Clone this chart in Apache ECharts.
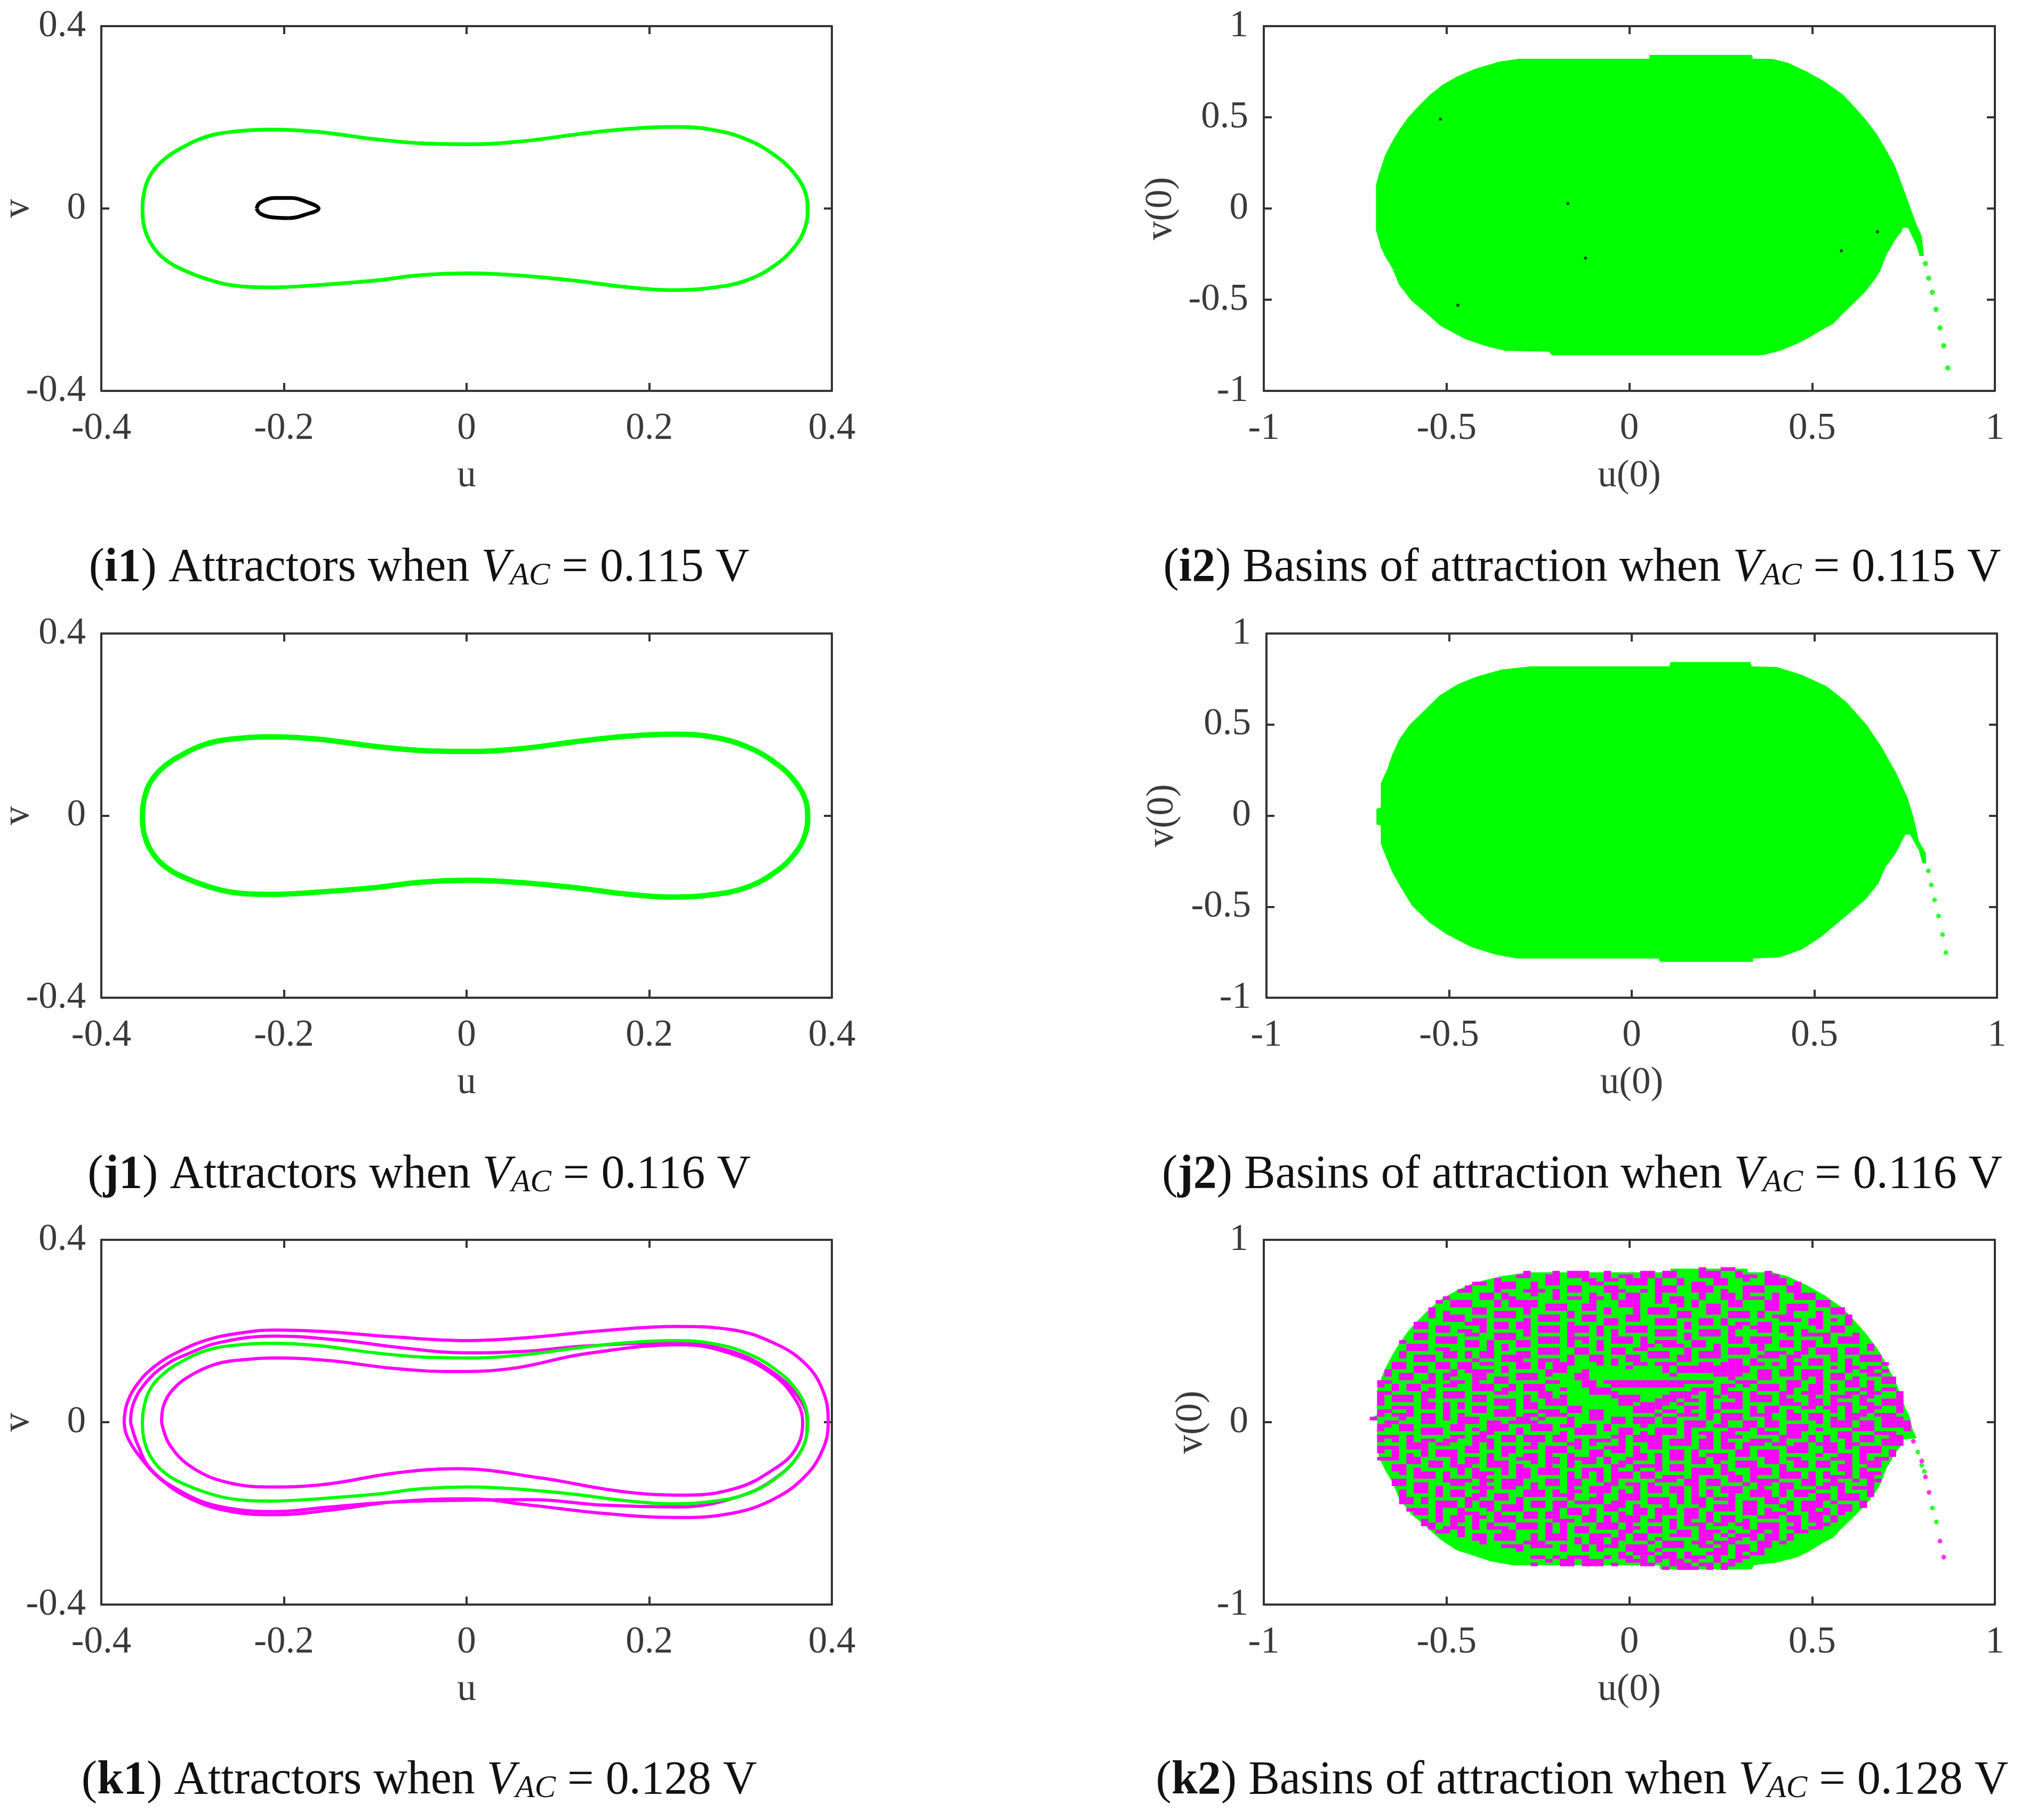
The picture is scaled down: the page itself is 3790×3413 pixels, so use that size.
<!DOCTYPE html>
<html>
<head>
<meta charset="utf-8">
<title>Attractors and basins</title>
<script src="https://cdn.jsdelivr.net/npm/echarts@6/dist/echarts.min.js"></script>
<style>
html, body { margin: 0; background: #fff; }
#main { width: 3790px; height: 3413px; }
</style>
</head>
<body>
<div id="main"></div>
<script>
// all values

var greenLoop = [[-0.355,0],[-0.353,0.036],[-0.346,0.074],[-0.331,0.108],[-0.312,0.133],[-0.287,0.156],[-0.258,0.168],[-0.214,0.173],[-0.163,0.168],[-0.1,0.152],[-0.049,0.143],[0.002,0.141],[0.059,0.147],[0.122,0.163],[0.173,0.174],[0.227,0.179],[0.268,0.173],[0.306,0.152],[0.338,0.116],[0.36,0.074],[0.372,0.028],[0.3735,0],[0.371,-0.04],[0.36,-0.082],[0.338,-0.124],[0.306,-0.158],[0.268,-0.174],[0.224,-0.179],[0.173,-0.172],[0.122,-0.159],[0.059,-0.147],[0.002,-0.142],[-0.049,-0.146],[-0.1,-0.158],[-0.163,-0.168],[-0.214,-0.173],[-0.258,-0.168],[-0.287,-0.153],[-0.309,-0.136],[-0.328,-0.115],[-0.344,-0.082],[-0.353,-0.04],[-0.355,0]];
var blackLoop = [[-0.23,0],[-0.226,0.013],[-0.21,0.023],[-0.192,0.023],[-0.176,0.015],[-0.162,0],[-0.176,-0.013],[-0.195,-0.021],[-0.214,-0.019],[-0.226,-0.011],[-0.23,0]];
var magentaOuter = [[-0.375,0],[-0.372,0.04],[-0.36,0.085],[-0.34,0.125],[-0.315,0.155],[-0.285,0.18],[-0.25,0.195],[-0.21,0.202],[-0.15,0.198],[-0.08,0.187],[0,0.179],[0.07,0.186],[0.15,0.201],[0.23,0.21],[0.29,0.203],[0.335,0.175],[0.37,0.13],[0.39,0.07],[0.396,0],[0.39,-0.06],[0.37,-0.12],[0.335,-0.17],[0.29,-0.2],[0.23,-0.209],[0.15,-0.2],[0.07,-0.182],[0,-0.168],[-0.08,-0.175],[-0.15,-0.193],[-0.21,-0.203],[-0.26,-0.195],[-0.3,-0.17],[-0.335,-0.125],[-0.36,-0.07],[-0.372,-0.03],[-0.375,0]];
var magentaMiddle = [[-0.368,0],[-0.365,0.04],[-0.352,0.085],[-0.33,0.125],[-0.305,0.15],[-0.27,0.175],[-0.21,0.189],[-0.14,0.18],[-0.07,0.163],[0,0.152],[0.06,0.155],[0.13,0.167],[0.23,0.174],[0.29,0.155],[0.335,0.11],[0.365,0.05],[0.373,0],[0.367,-0.06],[0.34,-0.12],[0.295,-0.165],[0.23,-0.186],[0.15,-0.182],[0.07,-0.17],[0,-0.171],[-0.08,-0.175],[-0.15,-0.186],[-0.21,-0.196],[-0.27,-0.185],[-0.31,-0.155],[-0.345,-0.105],[-0.36,-0.05],[-0.368,0]];
var magentaInner = [[-0.334,0],[-0.332,0.035],[-0.32,0.075],[-0.3,0.105],[-0.275,0.127],[-0.25,0.136],[-0.21,0.141],[-0.15,0.135],[-0.08,0.118],[-0.015,0.111],[0.05,0.118],[0.13,0.15],[0.235,0.17],[0.29,0.15],[0.335,0.105],[0.36,0.05],[0.368,0],[0.36,-0.06],[0.335,-0.105],[0.295,-0.145],[0.24,-0.16],[0.17,-0.152],[0.08,-0.122],[-0.01,-0.102],[-0.08,-0.112],[-0.15,-0.135],[-0.21,-0.142],[-0.26,-0.133],[-0.3,-0.1],[-0.325,-0.05],[-0.334,0]];

// outline of each green basin
var basinI2 = [[-0.693,0.13],[-0.685,0.19],[-0.668,0.293],[-0.648,0.37],[-0.63,0.43],[-0.605,0.5],[-0.575,0.565],[-0.545,0.625],[-0.51,0.68],[-0.47,0.725],[-0.423,0.765],[-0.354,0.806],[-0.303,0.821],[0.055,0.821],[0.055,0.842],[0.335,0.842],[0.338,0.821],[0.392,0.82],[0.433,0.8],[0.486,0.751],[0.535,0.695],[0.584,0.626],[0.615,0.56],[0.648,0.485],[0.678,0.405],[0.703,0.32],[0.726,0.237],[0.745,0.137],[0.764,0.032],[0.785,-0.085],[0.8,-0.15],[0.806,-0.26],[0.794,-0.26],[0.785,-0.2],[0.762,-0.105],[0.748,-0.105],[0.745,-0.126],[0.726,-0.175],[0.716,-0.213],[0.704,-0.251],[0.687,-0.339],[0.675,-0.38],[0.646,-0.456],[0.606,-0.535],[0.58,-0.585],[0.558,-0.632],[0.526,-0.667],[0.489,-0.711],[0.461,-0.74],[0.416,-0.778],[0.366,-0.804],[-0.212,-0.804],[-0.22,-0.785],[-0.341,-0.78],[-0.4,-0.75],[-0.45,-0.715],[-0.517,-0.643],[-0.556,-0.573],[-0.596,-0.506],[-0.63,-0.418],[-0.648,-0.33],[-0.668,-0.263],[-0.68,-0.213],[-0.693,-0.12]];
var basinJ2 = [[-0.687,0.178],[-0.669,0.256],[-0.656,0.334],[-0.636,0.42],[-0.609,0.497],[-0.562,0.589],[-0.526,0.66],[-0.474,0.724],[-0.421,0.766],[-0.356,0.802],[-0.276,0.82],[0.103,0.82],[0.106,0.843],[0.325,0.843],[0.328,0.82],[0.397,0.816],[0.466,0.773],[0.534,0.71],[0.587,0.625],[0.644,0.497],[0.684,0.377],[0.722,0.242],[0.755,0.1],[0.773,-0.02],[0.786,-0.14],[0.805,-0.204],[0.806,-0.263],[0.796,-0.263],[0.786,-0.19],[0.762,-0.105],[0.749,-0.105],[0.722,-0.21],[0.695,-0.282],[0.675,-0.374],[0.641,-0.459],[0.587,-0.551],[0.52,-0.664],[0.466,-0.735],[0.406,-0.778],[0.332,-0.785],[0.332,-0.803],[0.077,-0.803],[0.074,-0.785],[-0.313,-0.785],[-0.374,-0.763],[-0.44,-0.721],[-0.508,-0.65],[-0.555,-0.586],[-0.602,-0.494],[-0.636,-0.381],[-0.656,-0.31],[-0.676,-0.211],[-0.687,-0.154],[-0.687,-0.055],[-0.699,-0.048],[-0.699,0.037],[-0.687,0.044]];
var basinK2 = [[-0.7,0.03],[-0.69,0.04],[-0.69,0.175],[-0.68,0.234],[-0.668,0.293],[-0.648,0.37],[-0.63,0.43],[-0.605,0.5],[-0.575,0.565],[-0.545,0.625],[-0.51,0.68],[-0.47,0.725],[-0.423,0.765],[-0.353,0.8],[-0.277,0.822],[0.113,0.822],[0.113,0.842],[0.322,0.842],[0.325,0.822],[0.392,0.822],[0.433,0.8],[0.486,0.751],[0.535,0.695],[0.584,0.626],[0.615,0.56],[0.648,0.485],[0.678,0.405],[0.703,0.32],[0.726,0.234],[0.745,0.137],[0.755,0.079],[0.767,0.03],[0.775,-0.038],[0.786,-0.088],[0.748,-0.096],[0.745,-0.126],[0.726,-0.175],[0.716,-0.213],[0.704,-0.251],[0.687,-0.339],[0.675,-0.38],[0.646,-0.456],[0.606,-0.535],[0.58,-0.585],[0.558,-0.632],[0.526,-0.667],[0.489,-0.711],[0.461,-0.74],[0.404,-0.769],[0.34,-0.784],[0.335,-0.807],[0.085,-0.807],[0.082,-0.784],[-0.319,-0.784],[-0.379,-0.763],[-0.436,-0.725],[-0.473,-0.702],[-0.517,-0.643],[-0.556,-0.573],[-0.596,-0.506],[-0.63,-0.418],[-0.648,-0.33],[-0.668,-0.263],[-0.68,-0.213],[-0.69,-0.155],[-0.69,0.01],[-0.7,0.01]];

var tailI2 = [[0.81,-0.302],[0.819,-0.382],[0.829,-0.46],[0.839,-0.553],[0.85,-0.655],[0.86,-0.752],[0.871,-0.874]];
var tailJ2 = [[0.812,-0.303],[0.82,-0.381],[0.829,-0.463],[0.84,-0.551],[0.851,-0.653],[0.86,-0.752]];
var tailK2Green = [[0.789,-0.164],[0.8,-0.236],[0.807,-0.27],[0.829,-0.47],[0.84,-0.547]];
var tailK2Magenta = [[0.777,-0.105],[0.8,-0.213],[0.81,-0.3],[0.82,-0.385],[0.85,-0.652],[0.86,-0.74]];
var blackDotsI2 = [[-0.517,0.49],[-0.168,0.027],[-0.12,-0.272],[-0.469,-0.53],[0.58,-0.232],[0.679,-0.128]];

// k2 speckle, hand copied from zooms at half the real cell resolution, so an estimate.
// first row is v = 0.84, rows step down 0.02; first column is u = -0.70, columns step 0.02
var k2Cols0 = -0.70;
var k2Rows0 = 0.84;
var k2Step = 0.02;
var k2Map = [
"                                          ...#..##...###.",
"....................##...#.###..#....##.##...###..#...##...#...............",
"....................##..##.###..#.##.##.##...###..###.##...##..............",
"...............#.#......##...##.##.###.#..#....##..#..###...##.#...........",
"..............##.###..#.##....##...###.#..#.##.##.....###.#..###...........",
"............##...###..#....##...##.....###..###....###...##...##...........",
"...........###...#...###.#.##...###..#.###..###.#..###...##.....#..........",
".........#.....##.#...#..#....#..#.##..#.....#..##.#...#..###.##.##........",
".......##.#....##.##.....#.##.##.#.##..#.##..#..##.###.#..###...###........",
"......##.#.###...#.####.......#...###..#.##.#....##...##.....##..##.#......",
".....#.....###...#.####.###..##...###.....#.#.##.##...##.###.##.....##.....",
"....##.##.....##.....#..###..##.#...#.###.....##......##.###...###.##.#....",
"....##.##.#...##.###.#.....#....#...#.###.##..##.###.#...#...#.###....##...",
"...#....#.###....###...###.#.##....##.....##.....###.#.###...#...###.#.....",
"...##.#...###.##.....#.###...##.##.##..###...##.#.......###.##.#.###..##...",
"..##..##.....###.##.##.....#....##.....###.#.##.#.##.##.....##...#.##......",
"..#.#.##.##....#.##.##.###.###.#...###.....#.....##.###.##...#.##..#...#...",
"..#.#....##.##.#.....#.###.###.#.#.###.###...###.#...##.##.#...##...###....",
".##...##.....##..###.#.....#...#.#.....###.#.###.#.......#.####...#.###....",
".#..#.##.###.....###...###.###...###.#.....#.....##.###.......#.###..#..##.",
".####....###.##.#...##.###.#.#.#.###.#.###..##...##.###.##.##.#.###..#..##.",
".#...###.....##.#.#.##.....#...#.....##.###.##.#.....#..##.##.......###.##.",
".###.###.##.....#.#....###..##.#.##.##.....#...#.###.#.....#.###.##.###....",
"#...#.....##.#.##...##.###..##...##...###..#.###.###..###.##.###.##...#.##.",
"##..#.###.##.#.##.####.....#..##...##.###.##.###.....###.##....#...###..##.",
"#.....###.....#...###..###.#..##.#.##.....##.....##.#....#..##.#.#.###.....",
"##.##....##.##.##...##.#.###...#.#..##.###...##.###.##.#.##.##...#....#.##.",
"#..##.##.##.##....#.##.#.##........#....#.##########.....#.....#.##.##..#..",
"..#...##...#.####.#.....###..#..........#.##########.##.##.###...#.##.###..",
"###.##..#.##..##....###.#...##...........#.....####..##.##.###.##...##.#...",
"#...##..#.#...##.##.###.....##...................#...##....#.#.##.#...##.#.",
".##....##..##.#..##.....##...##.###############...###....##..#...##.#.##.#.",
"##.#.##...##..###..#.###.....##..##########.....##.#.###.##.##.#.##.#...##.",
"#..#.##.#.....###.##.###..#...###...........###.#....###.#..##.#...##.###.#",
".##....##.###....##....##.....####.......####.#.###.#...##.###...##.##..#.#",
"##.###.##.###.##.....#.##.#......####...####..##.##.###.#...#..###.##...###",
".#.###.#......##.###.#..###.......###..###.##.#...#.###.##..##.#...#..####.",
"##.....##.#.#....###.##.###.......##.####.#...#.###.....###.##.###.##.####.",
"#..###.##.#.#.##...#.##....##.......####...##.#.###.#.##...##.##.#..##..###",
".##..#....#...##.###...###.##.##....###.##.#..##....#.##.#.....#.#.##...###",
"##.###.##.#.#....###.##.###...##.......#..###.#.###.###..##.##...###.###..#",
"#...#..##.#.###.....##.#...#..##.##.###.##....#.###...#..##.##.#.##...###.#",
"..##...##...###.##.####....#.....##.###.##.###..#..##.##.....#.###.##.#####",
".##.##.....##...###...###.##.##.#....#.....###.##..##.##.###...###.##.#####",
"##..##.###.##.#.###.#.###...###.#.##...###.#.....###.#...###.#....###....##",
"#......###.....##...#.....#.###...##.#.###.#.##.##...###.##.....##...###..#",
".###.#.....##.##..##.###.##......##.####...#..#.###.....###.#.#.##.##..##..",
"##.#.#.##.##..###.##.###.##.#.###.#.####.###.##.#...###.#...#.#..#.##.###..",
"#....###.##...#.#.....#....##.#...#...##.###.##.##.###.##.##.###.##...###..",
".###.###.....##.#.##.##.###.#...###.#.##.....##.##.#.....###..##.#.###.....",
"##.#...#.###.##...##....###...##.##.#....##.#.....##.###.###..##...###.##..",
"#..#.#.#.###....#.#..##.#..#..##....##.#.##.#.###.##.###.....#..##.#...##..",
".###.##....#.##.#...###.##.####.#..###.#.##.##.##.....##.##....###.#.##....",
"#....##.##.#.##.###...#.##.#.##.#.##...#....##.#..###.##..##.##..#.###.....",
".#.##...##.###..###.#...#..#.....##.####.##.....#.###...#.##.##.##..##.##..",
"...##.#.....#.#...#.##.###...###.#..#..#.##.###.#...###.#.......##.#...##..",
"##..#.###.#.#.###.#.##.###.#.#.#.###.##.....###.##..###.###.#.#..#.###.....",
".#....###.#...##....##.....#.#.#.###.##.###.#....##.#...###.#.####.##......",
"#.###.....####.##.###...##.##..#.#.....###.##.##.##.####...##..#..#.##.##..",
"##.##.##...##..#..###.#.##.##...##.##.#....##.##...#.##.##.##.###...#..##..",
".##...##.#....###.##..#....#..###...#.##.##.#...###..#..##...##.#.###.#....",
"..###.##.#.##..#.....###.#.##.###.#.#.##.##.#.#.###.###.#.###...#...##.#...",
"#...#....#.##.##.##..###.###...#..###.....#.#.#..#..###.#.##.##.###.##.....",
".##.##.#.....##..##.#......#..##..###.###.#.##.###....##.....##.###.#......",
"##..##.#.###.#.##...#.##.##.####.##...###.#.##...#.##.##.#.###.#...###.....",
".###.....###.#.##.###.##.##.....###.#...#....#.###.##...##.###..##.#.......",
"...#.###.#..#...#.###....#.##.#.##..##.###.##..###.##.#..#.##.#.##.........",
"..##.###.#..###..#...##.##.##.#...#.##.###.##.#....##.###...###.#..........",
"....#....#.##.##.###.##.##...##.#.###..#...##.#.##...###.##.##.#...........",
"......##.#.##.#..###.....###.##.#.###.##.#.#..#.##.#.....##.##.#...........",
".......##..#..#.#...###.#.#....###.#.....#.###.##.##.###..#..##............",
"........#.###.#.###.###.#.#.##.###.##.##.#...#.....#.###.##.##.............",
".........##.#.....##....#.#.##....##..##..##.###.#..##.#..##...............",
"............#.##.###..#.###...###.#.##...###.##.#.###.##.#.................",
"..............##.###..#.###.#.##.##.##.#.....##..##.#.##.#.................",
"...............#.....###....#.##.#....#.###.##.###...##.#..................",
"..................###.###.#..#.###.###..###..##.#.##.##....................",
"....................#.....#..#.#...###.#.......##.##.#.....................",
"..................................#.###.##.#..###.#.##.....................",
"......................##.#.###..#.##.#.###.###.#..##.......................",
"........................#.##.###...###.#.##.#..#.##........................",
"......................#...##.###.#...##..###.##.##.........................",
"..................................##.#.##.###.#.#..........................",
"                                           #.###.##.##.#"
];

// ray test, used only to trim the hand copied rows at the basin edge
function insideBasin(pt, outline) {
    var inside = false;
    for (var i = 0, j = outline.length - 1; i < outline.length; j = i++) {
        var a = outline[i], b = outline[j];
        if ((a[1] > pt[1]) !== (b[1] > pt[1]) &&
            pt[0] < (b[0] - a[0]) * (pt[1] - a[1]) / (b[1] - a[1]) + a[0]) {
            inside = !inside;
        }
    }
    return inside;
}

function k2Cells() {
    var cells = [];
    k2Map.forEach(function(row, r) {
        for (var c = 0; c < row.length; c++) {
            var pt = [k2Cols0 + c * k2Step, k2Rows0 - r * k2Step];
            if (row[c] === '#' && insideBasin(pt, basinK2)) {
                cells.push(pt);
            }
        }
    });
    return cells;
}

var textColor = '#3a3a3a';
var fontFamily = '"Liberation Serif", "Times New Roman", serif';
var lineColor = '#333';

var panels = [
    {left: 190, right: 1560, top: 49, bottom: 733, range: 0.4, xInt: 0.2, yInt: 0.4, xName: 'u', yName: 'v', xGap: 125, yGap: 120},
    {left: 2370, right: 3741, top: 49, bottom: 733, range: 1, xInt: 0.5, yInt: 0.5, xName: 'u(0)', yName: 'v(0)', xGap: 125, yGap: 157},
    {left: 190, right: 1560, top: 1188, bottom: 1871, range: 0.4, xInt: 0.2, yInt: 0.4, xName: 'u', yName: 'v', xGap: 125, yGap: 120},
    {left: 2375, right: 3745, top: 1188, bottom: 1871, range: 1, xInt: 0.5, yInt: 0.5, xName: 'u(0)', yName: 'v(0)', xGap: 125, yGap: 159},
    {left: 190, right: 1560, top: 2325, bottom: 3009, range: 0.4, xInt: 0.2, yInt: 0.4, xName: 'u', yName: 'v', xGap: 125, yGap: 120},
    {left: 2370, right: 3741, top: 2325, bottom: 3009, range: 1, xInt: 0.5, yInt: 1, xName: 'u(0)', yName: 'v(0)', xGap: 125, yGap: 100}
];

var captions = [
    {x: 781, y: 1061, tag: 'i1', text: ') Attractors when ', volt: ' = 0.115 V'},
    {x: 2962, y: 1061, tag: 'i2', text: ') Basins of attraction when ', volt: ' = 0.115 V'},
    {x: 781, y: 2199, tag: 'j1', text: ') Attractors when ', volt: ' = 0.116 V'},
    {x: 2962, y: 2199, tag: 'j2', text: ') Basins of attraction when ', volt: ' = 0.116 V'},
    {x: 781, y: 3335, tag: 'k1', text: ') Attractors when ', volt: ' = 0.128 V'},
    {x: 2962, y: 3335, tag: 'k2', text: ') Basins of attraction when ', volt: ' = 0.128 V'}
];

function makeAxis(p, i, dim, position, main) {
    var isX = dim === 'x';
    return {
        gridIndex: i,
        type: 'value',
        position: position,
        min: -p.range,
        max: p.range,
        interval: isX ? p.xInt : p.yInt,
        splitLine: {show: false},
        axisLine: {show: true, onZero: false, lineStyle: {color: lineColor, width: 4}},
        axisTick: {show: true, inside: true, length: 15, lineStyle: {color: lineColor, width: 4}},
        axisLabel: {
            show: main,
            margin: isX ? 36 : 29,
            fontSize: 71,
            fontFamily: fontFamily,
            color: textColor
        },
        name: main ? (isX ? p.xName : p.yName) : '',
        nameLocation: 'middle',
        nameGap: isX ? p.xGap : p.yGap,
        nameRotate: isX ? 0 : 90,
        nameMoveOverlap: false,
        nameTextStyle: {fontSize: 71, fontFamily: fontFamily, color: textColor}
    };
}

function lineSeries(i, loop, color, width) {
    return {
        type: 'line',
        xAxisIndex: i * 2,
        yAxisIndex: i * 2,
        data: loop,
        smooth: 0.4,
        showSymbol: false,
        lineStyle: {color: color, width: width},
        silent: true
    };
}

function basinSeries(i, outline) {
    return {
        type: 'custom',
        xAxisIndex: i * 2,
        yAxisIndex: i * 2,
        data: [outline[0]],
        silent: true,
        renderItem: function(params, api) {
            return {
                type: 'polygon',
                shape: {points: outline.map(function(p) { return api.coord(p); })},
                style: {fill: '#00ff00'}
            };
        }
    };
}

function dotSeries(i, dots, color, size, symbol) {
    return {
        type: 'scatter',
        xAxisIndex: i * 2,
        yAxisIndex: i * 2,
        data: dots,
        symbol: symbol || 'circle',
        symbolSize: size,
        itemStyle: {color: color},
        silent: true
    };
}

function cellSeries(i, cells, color) {
    return {
        type: 'custom',
        xAxisIndex: i * 2,
        yAxisIndex: i * 2,
        data: cells,
        silent: true,
        renderItem: function(params, api) {
            var c = api.coord([api.value(0), api.value(1)]);
            var s = api.size([k2Step, k2Step]);
            return {
                type: 'rect',
                shape: {x: c[0] - s[0] / 2, y: c[1] - s[1] / 2, width: s[0], height: s[1]},
                style: {fill: color}
            };
        }
    };
}

var grids = [], xAxes = [], yAxes = [];
panels.forEach(function(p, i) {
    grids.push({left: p.left, top: p.top, width: p.right - p.left, height: p.bottom - p.top, outerBoundsMode: 'none'});
    xAxes.push(makeAxis(p, i, 'x', 'bottom', true));
    xAxes.push(makeAxis(p, i, 'x', 'top', false));
    yAxes.push(makeAxis(p, i, 'y', 'left', true));
    yAxes.push(makeAxis(p, i, 'y', 'right', false));
});

var titles = captions.map(function(c) {
    return {
        left: c.x,
        top: c.y,
        textAlign: 'center',
        textVerticalAlign: 'middle',
        text: '{n|(}{b|' + c.tag + '}{n|' + c.text + '}{i|V}{s|AC}{n|' + c.volt + '}',
        textStyle: {
            fontWeight: 'normal',
            rich: {
                n: {fontSize: 88, fontFamily: fontFamily, color: '#111', fontWeight: 'normal'},
                b: {fontSize: 88, fontFamily: fontFamily, color: '#111', fontWeight: 'bold'},
                i: {fontSize: 88, fontFamily: fontFamily, color: '#111', fontWeight: 'normal', fontStyle: 'italic'},
                s: {fontSize: 59, fontFamily: fontFamily, color: '#111', fontWeight: 'normal', fontStyle: 'italic', verticalAlign: 'bottom'}
            }
        }
    };
});

var series = [
    lineSeries(0, greenLoop, '#00ff00', 7),
    lineSeries(0, blackLoop, '#000', 7),
    basinSeries(1, basinI2),
    dotSeries(1, tailI2, '#00ff00', 10),
    dotSeries(1, blackDotsI2, '#000', 5, 'rect'),
    lineSeries(2, greenLoop, '#00ff00', 10),
    basinSeries(3, basinJ2),
    dotSeries(3, tailJ2, '#00ff00', 9),
    lineSeries(4, magentaOuter, '#ff00ff', 6),
    lineSeries(4, magentaMiddle, '#ff00ff', 6),
    lineSeries(4, magentaInner, '#ff00ff', 6),
    lineSeries(4, greenLoop, '#00ff00', 6),
    basinSeries(5, basinK2),
    cellSeries(5, k2Cells(), '#ff00ff'),
    dotSeries(5, tailK2Green, '#00ff00', 9),
    dotSeries(5, tailK2Magenta, '#ff00ff', 9)
];

var chart = echarts.init(document.getElementById('main'));
chart.setOption({
    animation: false,
    backgroundColor: '#fff',
    title: titles,
    grid: grids,
    xAxis: xAxes,
    yAxis: yAxes,
    series: series
});
</script>
</body>
</html>
